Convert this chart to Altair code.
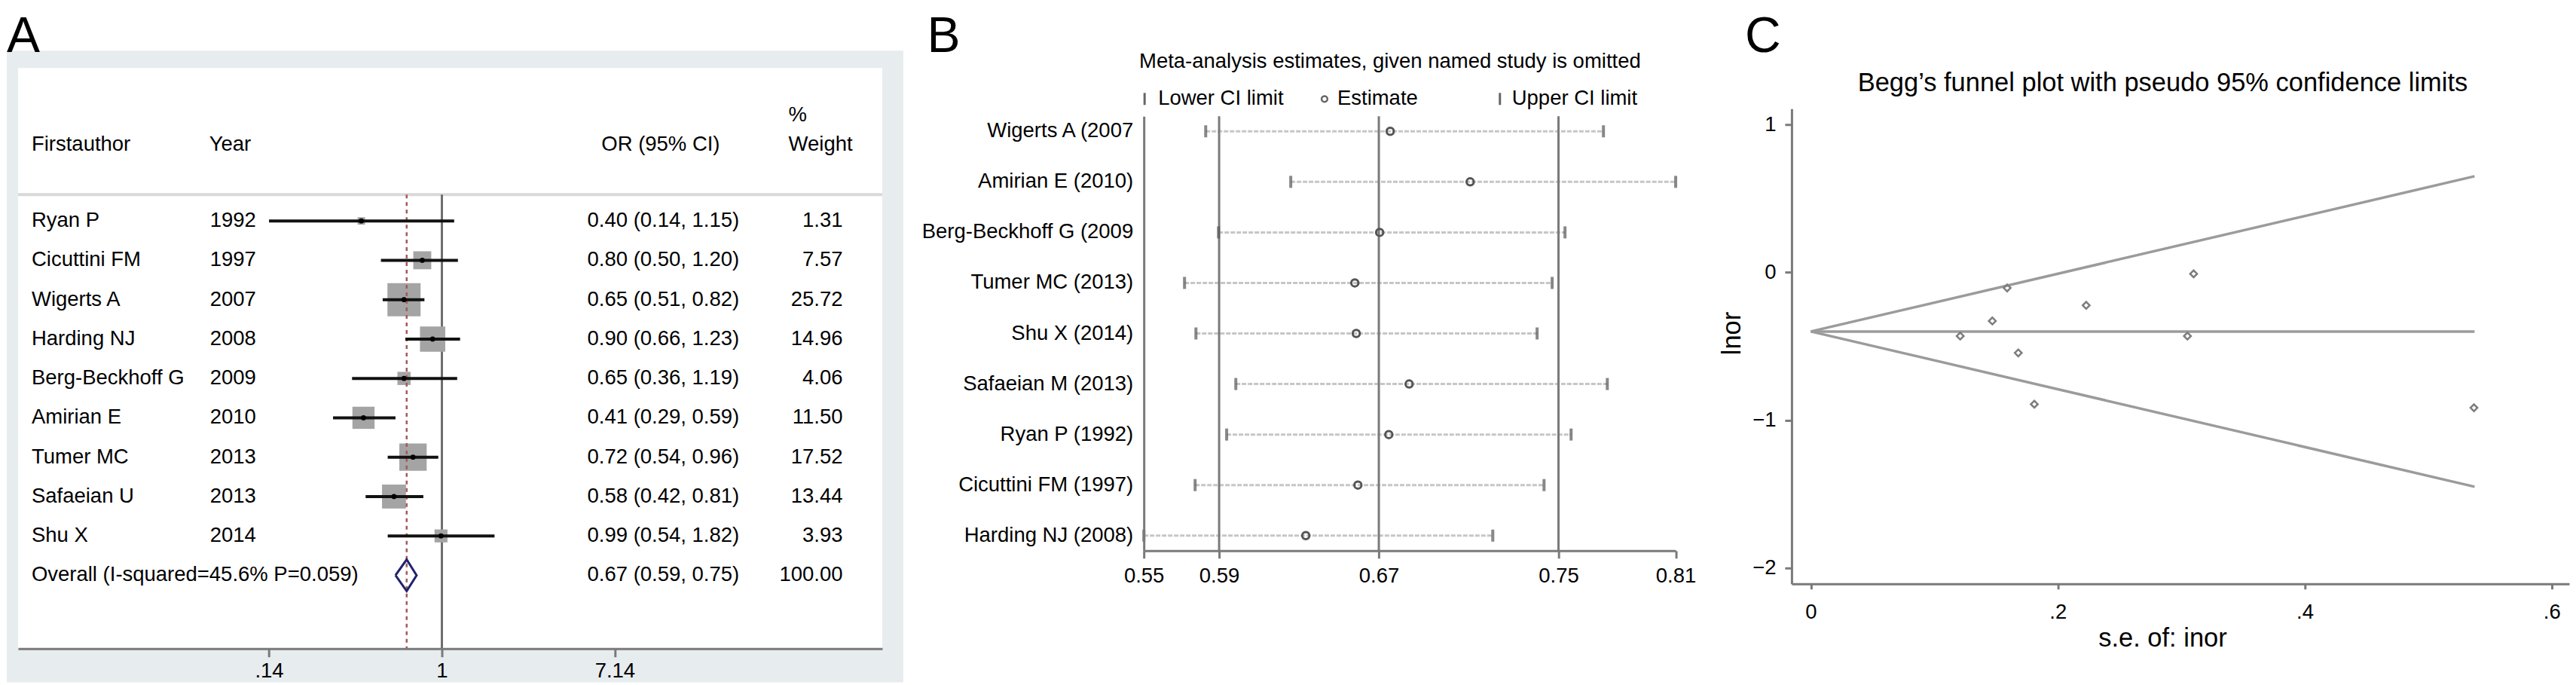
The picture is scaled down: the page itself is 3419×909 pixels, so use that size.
import math
import altair as alt
import pandas as pd

FONT = "Liberation Sans"
FS = 27.5
AXIS_GREY = "#7a7a7a"

# ---------------- Panel A: forest plot data ----------------
authors = ["Ryan P", "Cicuttini FM", "Wigerts A", "Harding NJ", "Berg-Beckhoff G",
           "Amirian E", "Tumer MC", "Safaeian U", "Shu X"]
years = ["1992", "1997", "2007", "2008", "2009", "2010", "2013", "2013", "2014"]
or_est = [0.40, 0.80, 0.65, 0.90, 0.65, 0.41, 0.72, 0.58, 0.99]
or_lo = [0.14, 0.50, 0.51, 0.66, 0.36, 0.29, 0.54, 0.42, 0.54]
or_hi = [1.15, 1.20, 0.82, 1.23, 1.19, 0.59, 0.96, 0.81, 1.82]
weights = [1.31, 7.57, 25.72, 14.96, 4.06, 11.50, 17.52, 13.44, 3.93]
overall_label = "Overall (I-squared=45.6% P=0.059)"
overall_or = [0.67, 0.59, 0.75]  # estimate, lower, upper
overall_weight = 100.00
null_value = 1.0
a_tick_values = [0.14, 1, 7.14]
a_tick_labels = [".14", "1", "7.14"]

# ---------------- Panel B: leave-one-out data ----------------
b_labels = ["Wigerts A (2007", "Amirian E (2010)", "Berg-Beckhoff G (2009", "Tumer MC (2013)",
            "Shu X (2014)", "Safaeian M (2013)", "Ryan P (1992)", "Cicuttini FM (1997)",
            "Harding NJ (2008)"]
b_lower = [0.5804, 0.6222, 0.5867, 0.5700, 0.5756, 0.5952, 0.5907, 0.5752, 0.5500]
b_est = [0.6711, 0.7104, 0.6659, 0.6537, 0.6544, 0.6804, 0.6704, 0.6552, 0.6296]
b_upper = [0.7759, 0.8114, 0.7570, 0.7507, 0.7433, 0.7778, 0.7600, 0.7467, 0.7215]
b_ref_lines = [0.5870, 0.6655, 0.7538]
b_tick_values = [0.5500, 0.5870, 0.6655, 0.7538, 0.8114]
b_tick_labels = ["0.55", "0.59", "0.67", "0.75", "0.81"]
b_legend = ["Lower CI limit", "Estimate", "Upper CI limit"]

# ---------------- Panel C: funnel plot data ----------------
c_se = [0.537, 0.223, 0.121, 0.159, 0.305, 0.181, 0.147, 0.168, 0.310]
c_lnor = [-0.916, -0.223, -0.431, -0.105, -0.431, -0.892, -0.329, -0.545, -0.010]
funnel_se = [0.0, 0.5375]
funnel_upper = [-0.40, 0.650]
funnel_mid = [-0.40, -0.40]
funnel_lower = [-0.40, -1.450]
c_x_ticks = [0, 0.2, 0.4, 0.6]
c_x_labels = ["0", ".2", ".4", ".6"]
c_y_ticks = [1, 0, -1, -2]
c_y_labels = ["1", "0", "\u22121", "\u22122"]


def label_expr(values, labels):
    s = "''"
    for v, l in reversed(list(zip(values, labels))):
        s = f"abs(datum.value - ({v})) < 1e-6 ? '{l}' : ({s})"
    return s


one = pd.DataFrame({"k": [0]})
PANEL_FS = 66


def label(t, x, y, size=FS, align="left", baseline="middle", angle=0, color="black"):
    return alt.Chart(one).mark_text(text=t, font=FONT, fontSize=size, align=align,
                                    baseline=baseline, angle=angle, color=color).encode(
        x=alt.value(x), y=alt.value(y))


def axis(**kw):
    base = dict(title=None, grid=False, domainColor=AXIS_GREY, domainWidth=3,
                tickColor=AXIS_GREY, tickWidth=3, labelFont=FONT, labelFontSize=FS,
                labelColor="black", labelFlush=False, labelOverlap=False, zindex=1)
    base.update(kw)
    return alt.Axis(**base)


# ================= Panel A =================
A_PLOT_W = 1148
A_W = 1341.5
A_H = 771
A_X1 = 563.0   # pixel of OR = 1
A_K = 116.8    # pixels per unit of ln(OR)
a_xscale = alt.Scale(type="log", domain=[math.exp(-A_X1 / A_K), math.exp((A_PLOT_W - A_X1) / A_K)],
                     range=[0, A_PLOT_W], nice=False, zero=False)
a_yscale = alt.Scale(domain=[-3.8815, 10.8604], range=[0, A_H], nice=False, zero=False)
a_xaxis = axis(values=a_tick_values, labelExpr=label_expr(a_tick_values, a_tick_labels),
               tickSize=11, labelPadding=5)

n = len(authors)
df_a = pd.DataFrame({"row": list(range(n)), "est": or_est, "lo": or_lo, "hi": or_hi, "w": weights})
df_a_text = pd.DataFrame({
    "row": list(range(n + 1)),
    "author": authors + [overall_label],
    "year": years + [""],
    "ci": [f"{e:.2f} ({l:.2f}, {h:.2f})" for e, l, h in zip(or_est, or_lo, or_hi)]
          + [f"{overall_or[0]:.2f} ({overall_or[1]:.2f}, {overall_or[2]:.2f})"],
    "wt": [f"{w:.2f}" for w in weights] + [f"{overall_weight:.2f}"],
})
DIAMOND_HALF = 0.40
df_diamond = pd.DataFrame({
    "x": [overall_or[1], overall_or[0], overall_or[2], overall_or[0], overall_or[1]],
    "y": [n, n - DIAMOND_HALF, n, n + DIAMOND_HALF, n],
    "o": [0, 1, 2, 3, 4],
})

AX = lambda f: alt.X(f, scale=a_xscale, axis=a_xaxis)
AY = lambda f: alt.Y(f, scale=a_yscale, axis=None)

# invisible anchor fixing the top-left corner of the whole figure
anchor = alt.Chart(one).mark_rect(color="transparent").encode(
    x=alt.value(-15), x2=alt.value(-14), y=alt.value(-81), y2=alt.value(-80))
frame = alt.Chart(one).mark_rect(color="#e7ecef").encode(
    x=alt.value(-15), x2=alt.value(1176), y=alt.value(-23), y2=alt.value(816))
white = alt.Chart(one).mark_rect(color="white").encode(
    x=alt.value(0), x2=alt.value(A_PLOT_W), y=alt.value(0), y2=alt.value(A_H))
sep = alt.Chart(one).mark_rule(color="#d9d9d9", strokeWidth=4).encode(
    x=alt.value(0), x2=alt.value(A_PLOT_W), y=alt.value(168))
null_line = alt.Chart(pd.DataFrame({"v": [null_value]})).mark_rule(
    color="#6e6e6e", strokeWidth=3).encode(x=AX("v:Q"), y=alt.value(168), y2=alt.value(A_H))
squares = alt.Chart(df_a).mark_square(color="#a4a4a4", opacity=1).encode(
    x=AX("est:Q"), y=AY("row:Q"),
    size=alt.Size("w:Q", scale=alt.Scale(domain=[0, max(weights)], range=[0, 1936]), legend=None))
dashed = alt.Chart(pd.DataFrame({"v": [overall_or[0]]})).mark_rule(
    color="#a65a5a", strokeWidth=2.5, strokeDash=[5, 5]).encode(
    x=AX("v:Q"), y=alt.value(168), y2=alt.value(A_H))
ci = alt.Chart(df_a).mark_rule(color="#111111", strokeWidth=4).encode(
    x=AX("lo:Q"), x2="hi:Q", y=AY("row:Q"))
dots = alt.Chart(df_a).mark_point(filled=True, shape="circle", size=45, color="black", opacity=1).encode(
    x=AX("est:Q"), y=AY("row:Q"))
diamond = alt.Chart(df_diamond).mark_line(color="#22226e", strokeWidth=3, strokeJoin="miter").encode(
    x=AX("x:Q"), y=AY("y:Q"), order="o:Q")


def a_text(field, xpx, align):
    return alt.Chart(df_a_text).mark_text(font=FONT, fontSize=FS, align=align, baseline="middle",
                                          color="black").encode(
        x=alt.value(xpx), y=AY("row:Q"), text=f"{field}:N")


panel_a = alt.layer(
    anchor, frame, white, sep, null_line, squares, dashed, ci, dots, diamond,
    a_text("author", 18, "left"), a_text("year", 255, "left"),
    a_text("ci", 958, "right"), a_text("wt", 1095.5, "right"),
    label("Firstauthor", 18, 102), label("Year", 254, 102), label("OR (95% CI)", 775, 102),
    label("%", 1023.5, 63), label("Weight", 1023.5, 102),
    label("A", -15, -21, size=PANEL_FS, baseline="alphabetic"),
).properties(width=A_W, height=A_H)

# ================= Panel B =================
B_W = 706.5
B_H = 641
b_xscale = alt.Scale(domain=[min(b_lower), max(b_upper)], range=[0, B_W], nice=False, zero=False)
b_yscale = alt.Scale(domain=[-0.298, 8.298], range=[64, B_H], nice=False, zero=False)
b_xaxis = axis(values=b_tick_values, labelExpr=label_expr(b_tick_values, b_tick_labels),
               tickSize=10, labelPadding=10)
b_yaxis = axis(ticks=False, labels=False)
BX = lambda f: alt.X(f, scale=b_xscale, axis=b_xaxis)
BY = lambda f: alt.Y(f, scale=b_yscale, axis=b_yaxis)

df_b = pd.DataFrame({"row": list(range(len(b_labels))), "name": b_labels,
                     "lo": b_lower, "est": b_est, "hi": b_upper})

b_dotted = alt.Chart(df_b).mark_rule(color="#c6c6c6", strokeWidth=3, strokeDash=[6, 2]).encode(
    x=BX("lo:Q"), x2="hi:Q", y=BY("row:Q"))
b_refs = alt.Chart(pd.DataFrame({"v": b_ref_lines})).mark_rule(color=AXIS_GREY, strokeWidth=3).encode(
    x=BX("v:Q"), y=alt.value(64), y2=alt.value(B_H))
b_lo = alt.Chart(df_b).mark_tick(orient="vertical", color="#555555", thickness=4, size=16).encode(
    x=BX("lo:Q"), y=BY("row:Q"))
b_hi = alt.Chart(df_b).mark_tick(orient="vertical", color="#555555", thickness=4, size=16).encode(
    x=BX("hi:Q"), y=BY("row:Q"))
b_pt = alt.Chart(df_b).mark_point(shape="circle", filled=False, size=90, strokeWidth=3,
                                  color="#555555", opacity=1).encode(x=BX("est:Q"), y=BY("row:Q"))
b_names = alt.Chart(df_b).mark_text(font=FONT, fontSize=FS, align="right", baseline="middle",
                                    color="black").encode(x=alt.value(-14), y=BY("row:Q"), text="name:N")

leg_lo = alt.Chart(one).mark_rule(color="#666666", strokeWidth=3).encode(
    x=alt.value(1), y=alt.value(33), y2=alt.value(49))
leg_pt = alt.Chart(one).mark_point(shape="circle", filled=False, size=60, strokeWidth=2.5,
                                   color="#666666", opacity=1).encode(x=alt.value(240), y=alt.value(41))
leg_hi = alt.Chart(one).mark_rule(color="#666666", strokeWidth=3).encode(
    x=alt.value(473), y=alt.value(33), y2=alt.value(49))

panel_b = alt.layer(
    b_dotted, b_refs, b_lo, b_hi, b_pt, b_names,
    leg_lo, leg_pt, leg_hi,
    label(b_legend[0], 19, 41), label(b_legend[1], 257, 41), label(b_legend[2], 489, 41),
    label("Meta-analysis estimates, given named study is omitted", 327, -8, align="center"),
    label("B", -288, -21, size=PANEL_FS, baseline="alphabetic"),
).properties(width=B_W, height=B_H)

# ================= Panel C =================
C_W = 1033
C_H = 685
C_X0 = 25.5      # pixel of s.e. = 0
C_KX = 1640.5    # pixels per unit s.e.
c_xscale = alt.Scale(domain=[-C_X0 / C_KX, (C_W - C_X0) / C_KX], range=[0, C_W], nice=False, zero=False)
c_yscale = alt.Scale(domain=[-2.107, 1.107], range=[C_H, 54], nice=False, zero=False)
c_xaxis = axis(values=c_x_ticks, labelExpr=label_expr(c_x_ticks, c_x_labels), tickSize=7, labelPadding=17)
c_yaxis = axis(values=c_y_ticks, labelExpr=label_expr(c_y_ticks, c_y_labels), tickSize=9, labelPadding=12,
               title="lnor", titleFont=FONT, titleFontSize=34.5, titleColor="black",
               titleFontWeight="normal", titlePadding=9, titleY=352)
CX = lambda f: alt.X(f, scale=c_xscale, axis=c_xaxis)
CY = lambda f: alt.Y(f, scale=c_yscale, axis=c_yaxis)

df_funnel = pd.DataFrame({
    "se": funnel_se * 3,
    "y": funnel_upper + funnel_mid + funnel_lower,
    "line": ["upper"] * 2 + ["mid"] * 2 + ["lower"] * 2,
})
df_c = pd.DataFrame({"se": c_se, "lnor": c_lnor})

c_lines = alt.Chart(df_funnel).mark_line(color="#9b9b9b", strokeWidth=3.5).encode(
    x=CX("se:Q"), y=CY("y:Q"), detail="line:N")
c_pts = alt.Chart(df_c).mark_point(shape="diamond", filled=False, size=85, strokeWidth=2.5,
                                   color="#7d7d7d", opacity=1).encode(x=CX("se:Q"), y=CY("lnor:Q"))

panel_c = alt.layer(
    c_lines, c_pts,
    label("Begg\u2019s funnel plot with pseudo 95% confidence limits", 493, 21, size=34.5, align="center"),
    label("s.e. of: inor", 493, 758, size=34.5, align="center"),
    label("C", -62, -21, size=PANEL_FS, baseline="alphabetic"),
).properties(width=C_W, height=C_H)

chart = alt.hconcat(panel_a, panel_b, panel_c, spacing=153.5, bounds="flush").properties(
    padding=0, background="white"
).configure_view(stroke="transparent")

chart.save("out.html", embed_options={"renderer": "svg", "actions": False})
